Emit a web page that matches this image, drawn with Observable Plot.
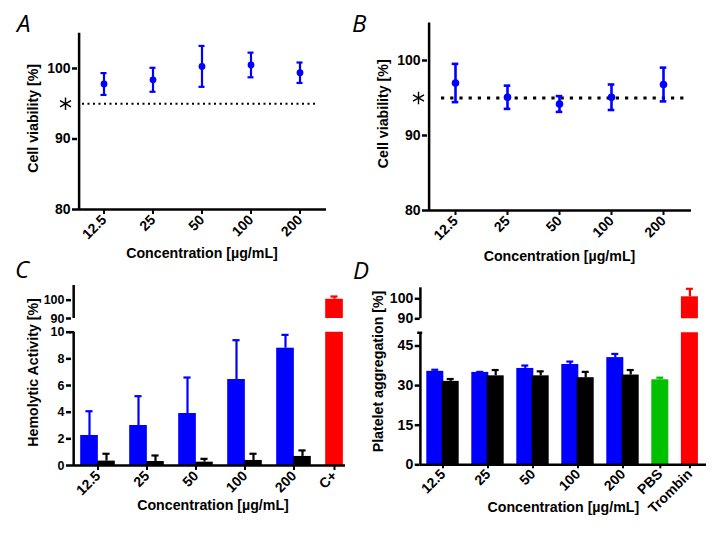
<!DOCTYPE html>
<html><head><meta charset="utf-8">
<script src="https://cdn.jsdelivr.net/npm/d3@7"></script>
<script src="https://cdn.jsdelivr.net/npm/@observablehq/plot@0.6"></script>
<style>
body{margin:0;background:#fff;}
#root{position:relative;width:717px;height:533px;overflow:hidden;background:#fff;}
#root svg{position:absolute;}
.letter{position:absolute;font-family:"Open Sans",sans-serif;font-style:italic;font-size:24px;line-height:24px;color:#000;}
</style></head>
<body><div id="root"></div>
<script>
// ---------- data ----------
const concentrations = ["12.5", "25", "50", "100", "200"];
const viabilityTicks = [80, 90, 100];
const viabilityThreshold = 95;
const viabilityA = [97.8, 98.4, 100.3, 100.5, 99.4];
const viabilityA_sd = [1.55, 1.7, 2.9, 1.75, 1.45];
const viabilityB = [97.0, 95.1, 94.2, 95.1, 96.8];
const viabilityB_sd = [2.55, 1.55, 1.05, 1.7, 2.25];

const hemoCategories = ["12.5", "25", "50", "100", "200", "C+"];
const hemoTicksLow = [0, 2, 4, 6, 8, 10];
const hemoTicksHigh = [90, 100];
const hemoSeries1 = [2.25, 3.0, 3.9, 6.45, 8.8];
const hemoSeries1_sd = [1.82, 2.2, 2.7, 2.95, 1.0];
const hemoSeries2 = [0.33, 0.3, 0.25, 0.38, 0.68];
const hemoSeries2_sd = [0.55, 0.45, 0.25, 0.5, 0.45];
const hemoPositive = [{c: "C+", v: 100.5, s: 1.5}];

const aggCategories = ["12.5", "25", "50", "100", "200", "PBS", "Trombin"];
const aggTicksLow = [0, 15, 30, 45];
const aggTicksHigh = [90, 100];
const aggSeries1 = [35.4, 35.0, 36.5, 38.0, 40.6];
const aggSeries1_sd = [0.6, 0.2, 1.1, 1.1, 1.4];
const aggSeries2 = [31.6, 33.7, 33.7, 33.0, 34.0];
const aggSeries2_sd = [0.9, 2.2, 1.7, 2.2, 1.9];
const aggPBS = [{c: "PBS", v: 32.2, s: 0.8}];
const aggTrombin = [{c: "Trombin", v: 101, s: 4}];

// ---------- styles ----------
const BLUE = "#0000ff", RED = "#ff0000", GREEN = "#00c000", BLACK = "#000000";
const FONT = '"Liberation Sans", Arial, Helvetica, sans-serif';
const style = {background: "transparent", overflow: "visible", fontFamily: FONT, fontSize: "14px", fontWeight: "bold", color: "black"};
const AX = 2.5, TITLE = 14.2;
const root = document.getElementById("root");
function place(svg, left, top) { svg.style.left = left + "px"; svg.style.top = top + "px"; root.appendChild(svg); }
const rows = (cats, vals, sds) => cats.map((c, i) => ({c, v: vals[i], s: sds[i]}));

// y axis: line along the frame's left edge, ticks and labels
function yAxis(ticks, frameW, firstCat, bandLeftDx, fontSize = 14) {
  return [
    Plot.ruleX([firstCat], {x: d => d, dx: bandLeftDx, stroke: BLACK, strokeWidth: AX}),
    Plot.ruleY(ticks, {stroke: BLACK, strokeWidth: AX, insetLeft: -5, insetRight: frameW}),
    Plot.axisY({ticks, tickSize: 0, tickPadding: 7, stroke: BLACK, fill: BLACK, label: null, fontSize})
  ];
}

// ---------- A & B ----------
function viabilityPlot(means, sds, o) {
  const data = rows(concentrations, means, sds);
  const frameW = o.width - o.ml - o.mr;
  const bw = frameW / concentrations.length;
  return Plot.plot({
    width: o.width, height: o.height,
    marginLeft: o.ml, marginRight: o.mr, marginTop: o.mt, marginBottom: o.mb,
    style,
    x: {type: "band", domain: concentrations, padding: 0},
    y: {domain: [80, 105]},
    marks: [
      Plot.ruleY([viabilityThreshold], {stroke: BLACK, strokeWidth: o.dotW, strokeDasharray: o.dash, insetLeft: o.dashL, insetRight: o.dashR}),
      Plot.dot([viabilityThreshold], {y: d => d, frameAnchor: "left", dx: o.starDx, symbol: "asterisk", r: 6, stroke: BLACK, strokeWidth: 1.4}),
      Plot.ruleY([80], {stroke: BLACK, strokeWidth: AX}),
      ...yAxis(viabilityTicks, frameW, concentrations[0], -bw / 2),
      Plot.axisX({tickRotate: -45, tickSize: 5, tickPadding: 3, stroke: BLACK, strokeWidth: 2, label: null}),
      Plot.ruleX(data, {x: "c", y1: d => d.v - d.s, y2: d => d.v + d.s, stroke: BLUE, strokeWidth: o.ew}),
      Plot.tickY(data, {x: "c", y: d => d.v + d.s, stroke: BLUE, strokeWidth: o.ew, insetLeft: bw / 2 - o.cap, insetRight: bw / 2 - o.cap}),
      Plot.tickY(data, {x: "c", y: d => d.v - d.s, stroke: BLUE, strokeWidth: o.ew, insetLeft: bw / 2 - o.cap, insetRight: bw / 2 - o.cap}),
      Plot.dot(data, {x: "c", y: "v", r: o.r, fill: BLUE}),
      Plot.text(["Cell viability [%]"], {text: d => d, frameAnchor: "left", textAnchor: "middle", lineAnchor: "middle", rotate: -90, dx: o.ytx, dy: -3, fontSize: TITLE}),
      Plot.text(["Concentration [µg/mL]"], {text: d => d, frameAnchor: "bottom", textAnchor: "middle", lineAnchor: "middle", dy: o.xty, fontSize: TITLE})
    ]
  });
}
place(viabilityPlot(viabilityA, viabilityA_sd, {width: 358, height: 265, ml: 77, mr: 32, mt: 32.75, mb: 56,
  dotW: 2, dash: "2,3.5", dashL: 5, dashR: 8, starDx: -12, ew: 2.2, cap: 3.4, r: 3.4, ytx: -44, xty: 44}), 0, 0);
place(viabilityPlot(viabilityB, viabilityB_sd, {width: 359, height: 265, ml: 69, mr: 26, mt: 22.5, mb: 55,
  dotW: 3, dash: "3.2,6", dashL: 14, dashR: 2, starDx: -9, ew: 2.6, cap: 3.7, r: 3.8, ytx: -44, xty: 46}), 358, 0);

// ---------- C ----------
const sC = 49.85, c0 = 70.4, wC = 358 - 71 - 13;
const hemo1 = rows(concentrations, hemoSeries1, hemoSeries1_sd);
const hemo2 = rows(concentrations, hemoSeries2, hemoSeries2_sd);
const xC = {type: "band", domain: hemoCategories, range: [c0, c0 + sC * hemoCategories.length], padding: 0};
function errUp(data, color, dx, half, bw) {
  return [
    Plot.ruleX(data, {x: "c", y1: "v", y2: d => d.v + d.s, stroke: color, strokeWidth: 2.2, dx}),
    Plot.tickY(data, {x: "c", y: d => d.v + d.s, stroke: color, strokeWidth: 2.2, dx, insetLeft: bw / 2 - half, insetRight: bw / 2 - half})
  ];
}
place(Plot.plot({
  width: 358, height: 55, marginLeft: 71, marginRight: 13, marginTop: 15, marginBottom: 7,
  style, x: {...xC, axis: null}, y: {domain: [90, 108], axis: null},
  marks: [
    Plot.barY(hemoPositive, {x: "c", y: "v", fill: RED, insetLeft: 7.2, insetRight: 24.15, clip: true}),
    ...errUp(hemoPositive, RED, -8.5, 4, sC),
    ...yAxis(hemoTicksHigh, wC, hemoCategories[0], -sC / 2 + 0.6, 12.5)
  ]
}), 0, 270);
place(Plot.plot({
  width: 358, height: 208, marginLeft: 71, marginRight: 13, marginTop: 6.7, marginBottom: 68,
  style, x: xC, y: {domain: [0, 10]},
  marks: [
    Plot.barY(hemo1, {x: "c", y: "v", fill: BLUE, insetLeft: 7.2, insetRight: 24.15}),
    ...errUp(hemo1, BLUE, -8.5, 4, sC),
    Plot.barY(hemo2, {x: "c", y: "v", fill: BLACK, insetLeft: 24.15, insetRight: 7.2}),
    ...errUp(hemo2, BLACK, 8.5, 4, sC),
    Plot.barY(hemoPositive, {x: "c", y: "v", fill: RED, insetLeft: 7.2, insetRight: 24.15, clip: true}),
    Plot.ruleY([0], {stroke: BLACK, strokeWidth: AX}),
    Plot.ruleY([10], {stroke: BLACK, strokeWidth: AX, insetLeft: -2, insetRight: wC - 3}),
    ...yAxis(hemoTicksLow, wC, hemoCategories[0], -sC / 2 + 0.6, 12.5),
    Plot.axisX({ticks: concentrations, tickRotate: -45, tickSize: 5, tickPadding: 3, stroke: BLACK, strokeWidth: 2, label: null}),
    Plot.axisX({ticks: ["C+"], tickRotate: -45, tickSize: 5, tickPadding: 3, stroke: BLACK, strokeWidth: 2, label: null, dx: -8.5}),
    Plot.text(["Hemolytic Activity [%]"], {text: d => d, frameAnchor: "left", textAnchor: "middle", lineAnchor: "middle", rotate: -90, dx: -38, dy: -26.4, fontSize: TITLE}),
    Plot.text(["Concentration [µg/mL]"], {text: d => d, frameAnchor: "bottom", textAnchor: "middle", lineAnchor: "middle", dx: 4.5, dy: 40, fontSize: TITLE})
  ]
}), 0, 325);

// ---------- D ----------
const sD = 45, d0 = 61.8, wD = 359 - 61.7 - 11;
const agg1 = rows(concentrations, aggSeries1, aggSeries1_sd);
const agg2 = rows(concentrations, aggSeries2, aggSeries2_sd);
const xD = {type: "band", domain: aggCategories, range: [d0, d0 + sD * aggCategories.length], padding: 0};
place(Plot.plot({
  width: 359, height: 55, marginLeft: 61.7, marginRight: 11, marginTop: 17.3, marginBottom: 6.7,
  style, x: {...xD, axis: null}, y: {domain: [90, 105.5], axis: null},
  marks: [
    Plot.barY(aggTrombin, {x: "c", y: "v", fill: RED, insetLeft: -9.1, insetRight: 37.1, clip: true}),
    ...errUp(aggTrombin, RED, -23.1, 3.5, sD),
    ...yAxis(aggTicksHigh, wD, aggCategories[0], -sD / 2 - 0.1)
  ]
}), 358, 270);
place(Plot.plot({
  width: 359, height: 208, marginLeft: 61.7, marginRight: 11, marginTop: 7.3, marginBottom: 68.7,
  style, x: xD, y: {domain: [0, 50]},
  marks: [
    Plot.barY(agg1, {x: "c", y: "v", fill: BLUE, insetLeft: 6.3, insetRight: 21.7}),
    ...errUp(agg1, BLUE, -7.7, 3.5, sD),
    Plot.barY(agg2, {x: "c", y: "v", fill: BLACK, insetLeft: 21.7, insetRight: 6.3}),
    ...errUp(agg2, BLACK, 7.7, 3.5, sD),
    Plot.barY(aggPBS, {x: "c", y: "v", fill: GREEN, insetLeft: 6.3, insetRight: 21.7}),
    ...errUp(aggPBS, GREEN, -7.7, 3.5, sD),
    Plot.barY(aggTrombin, {x: "c", y: "v", fill: RED, insetLeft: -9.1, insetRight: 37.1, clip: true}),
    Plot.ruleY([0], {stroke: BLACK, strokeWidth: AX}),
    Plot.ruleY([50], {stroke: BLACK, strokeWidth: AX, insetLeft: -2.5, insetRight: wD - 2.5}),
    ...yAxis(aggTicksLow, wD, aggCategories[0], -sD / 2 - 0.1),
    Plot.axisX({ticks: concentrations, tickRotate: -45, tickSize: 4, tickPadding: 3, stroke: BLACK, strokeWidth: 2, label: null}),
    Plot.axisX({ticks: ["PBS"], tickRotate: -45, tickSize: 4, tickPadding: 3, stroke: BLACK, strokeWidth: 2, label: null, dx: -7.7}),
    Plot.axisX({ticks: ["Trombin"], tickRotate: -45, tickSize: 4, tickPadding: 3, stroke: BLACK, strokeWidth: 2, label: null, dx: -23.1}),
    Plot.text(["Platelet aggregation [%]"], {text: d => d, frameAnchor: "left", textAnchor: "middle", lineAnchor: "middle", rotate: -90, dx: -41.7, dy: -27.3, fontSize: TITLE}),
    Plot.text(["Concentration [µg/mL]"], {text: d => d, frameAnchor: "bottom", textAnchor: "middle", lineAnchor: "middle", dy: 42.4, fontSize: TITLE})
  ]
}), 358, 325);

// ---------- panel letters ----------
[["A", 17, 11], ["B", 352, 11], ["C", 15, 257], ["D", 353, 258]].forEach(([t, l, tp]) => {
  const d = document.createElement("div");
  d.className = "letter"; d.textContent = t;
  d.style.left = l + "px"; d.style.top = tp + "px";
  root.appendChild(d);
});
</script>
</body></html>
